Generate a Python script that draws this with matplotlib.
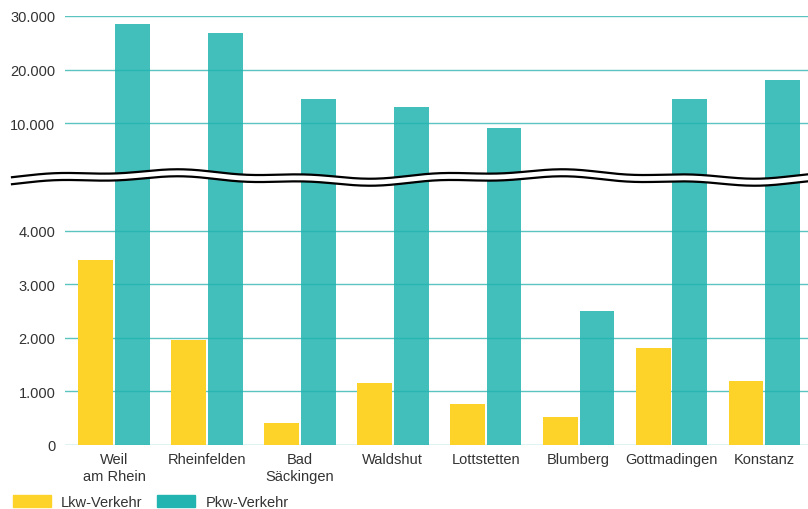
import numpy as np
import matplotlib
matplotlib.use("Agg")
import matplotlib.pyplot as plt
from matplotlib.patches import Patch

orte = ["Weil\nam Rhein", "Rheinfelden", "Bad\nSäckingen", "Waldshut",
        "Lottstetten", "Blumberg", "Gottmadingen", "Konstanz"]
lkw = [3450, 1950, 410, 1150, 760, 520, 1810, 1190]
pkw = [28500, 26900, 14500, 13000, 9600, 2500, 14500, 18000]
yticks = [0, 1000, 2000, 3000, 4000, 10000, 20000, 30000]
ytick_labels = ["0", "1.000", "2.000", "3.000", "4.000", "10.000", "20.000", "30.000"]

YELLOW = "#FDD32A"
TEAL = "#21B4B0"
GRID = "#5CC4C0"
TXT = "#333333"


# broken axis: 0..5000 linear, 5000..10000 squeezed, >10000 at 1/10
def fwd(v):
    v = np.asarray(v, dtype=float)
    return np.where(v <= 5000, v,
                    np.where(v <= 10000, 5000 + (v - 5000) / 5, 5000 + v / 10))


def inv(t):
    t = np.asarray(t, dtype=float)
    return np.where(t <= 5000, t,
                    np.where(t <= 6000, 5000 + (t - 5000) * 5, (t - 5000) * 10))


plt.rcParams["font.family"] = ["Liberation Sans", "DejaVu Sans"]
fig = plt.figure(figsize=(8.08, 5.10), dpi=100)
ax = fig.add_axes([65 / 808, 64 / 510, 743 / 808, 429 / 510])
ax.set_yscale("function", functions=(fwd, inv))

x = np.arange(len(orte))
w = 0.375
ax.bar(x - w / 2 - 0.01, lkw, width=w, color=YELLOW, zorder=2)
ax.bar(x + w / 2 + 0.01, pkw, width=w, color=TEAL, alpha=0.85, zorder=2)

ax.set_ylim(0, 30000)
ax.set_xlim(-0.53, 7.47)
ax.set_yticks(yticks)
ax.set_yticklabels(ytick_labels)
ax.yaxis.set_minor_locator(matplotlib.ticker.NullLocator())
ax.set_xticks(x)
ax.set_xticklabels(orte, linespacing=1.25)
ax.tick_params(axis="both", length=0, labelsize=10.5, colors=TXT)
ax.tick_params(axis="y", pad=7)
ax.tick_params(axis="x", pad=5)
ax.grid(axis="y", color=GRID, lw=1, zorder=1)
for s in ax.spines.values():
    s.set_visible(False)
ax.set_axisbelow(True)

# wavy break marks across the whole width (figure pixels)
xs = np.linspace(12, 808, 400)
wave = (3.2 * np.sin((xs - 70) / 808 * 2 * np.pi * 2.1)
        + 1.6 * np.sin((xs - 20) / 808 * 2 * np.pi * 6.3))
y_top = 175 - wave
y_bot = y_top + 7
fx = xs / 808
fig.patches.append(plt.Polygon(
    np.column_stack([np.r_[fx, fx[::-1]], 1 - np.r_[y_top, y_bot[::-1]] / 510]),
    closed=True, transform=fig.transFigure, facecolor="white", edgecolor="none", zorder=5))
for yy in (y_top, y_bot):
    fig.add_artist(plt.Line2D(fx, 1 - yy / 510, transform=fig.transFigure,
                              color="black", lw=1.6, zorder=6))

handles = [Patch(color=YELLOW), Patch(color=TEAL)]
fig.legend(handles, ["Lkw-Verkehr", "Pkw-Verkehr"], loc="lower left",
           bbox_to_anchor=(0.0, -0.026), ncol=2, frameon=False,
           handlelength=2.6, handleheight=0.8, handletextpad=0.7,
           columnspacing=1.0, fontsize=10.5, labelcolor=TXT)

fig.savefig("out.png", dpi=100)
